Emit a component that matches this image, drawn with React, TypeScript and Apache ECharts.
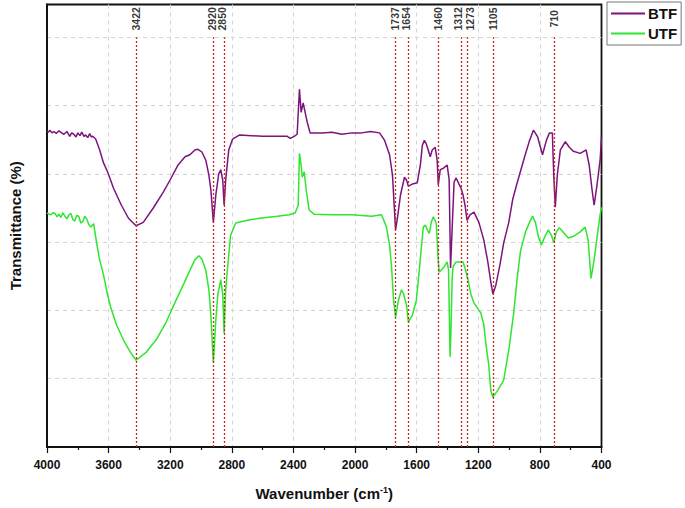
import React, { useEffect, useRef } from "react";
import * as echarts from "echarts";

const btfWavenumber = [4000, 3990, 3981, 3968, 3955, 3940, 3923, 3905, 3890, 3871, 3852, 3840, 3826, 3812, 3800, 3786, 3774, 3760, 3749, 3735, 3723, 3712, 3703, 3684, 3658, 3633, 3607, 3568, 3517, 3471, 3422, 3375, 3310, 3246, 3201, 3149, 3104, 3072, 3040, 3020, 2994, 2969, 2949, 2936, 2920, 2904, 2885, 2872, 2859, 2850, 2840, 2820, 2795, 2749, 2601, 2440, 2421, 2395, 2376, 2361, 2350, 2337, 2324, 2311, 2292, 2214, 2150, 2086, 2020, 1957, 1900, 1841, 1808, 1776, 1757, 1737, 1725, 1705, 1679, 1666, 1654, 1628, 1596, 1576, 1563, 1550, 1538, 1525, 1512, 1499, 1480, 1467, 1460, 1447, 1428, 1402, 1389, 1380, 1370, 1357, 1344, 1325, 1312, 1299, 1286, 1273, 1254, 1228, 1196, 1164, 1138, 1119, 1105, 1086, 1060, 1035, 1002, 977, 951, 899, 867, 842, 816, 783, 758, 738, 719, 710, 700, 687, 667, 635, 609, 583, 538, 500, 480, 461, 448, 429, 409, 400];
const btfValues = [4.63, 4.61, 4.64, 4.60, 4.62, 4.59, 4.63, 4.60, 4.58, 4.62, 4.55, 4.60, 4.58, 4.54, 4.60, 4.56, 4.61, 4.55, 4.57, 4.53, 4.59, 4.54, 4.55, 4.51, 4.35, 4.16, 4.03, 3.79, 3.54, 3.35, 3.24, 3.29, 3.50, 3.73, 3.91, 4.13, 4.25, 4.28, 4.35, 4.36, 4.32, 4.20, 3.98, 3.76, 3.29, 3.69, 4.00, 4.06, 3.91, 3.54, 3.91, 4.35, 4.51, 4.57, 4.55, 4.55, 4.52, 4.55, 4.58, 5.24, 4.90, 5.04, 4.90, 4.76, 4.60, 4.60, 4.61, 4.58, 4.60, 4.60, 4.62, 4.60, 4.49, 4.28, 3.98, 3.18, 3.35, 3.69, 3.95, 3.91, 3.82, 3.85, 3.87, 4.13, 4.42, 4.49, 4.44, 4.35, 4.25, 4.35, 4.39, 4.20, 3.84, 4.06, 4.08, 4.13, 3.91, 2.62, 3.18, 3.88, 3.94, 3.85, 3.79, 3.69, 3.54, 3.32, 3.40, 3.44, 3.29, 3.03, 2.71, 2.42, 2.24, 2.37, 2.66, 2.99, 3.29, 3.62, 3.84, 4.25, 4.49, 4.64, 4.55, 4.28, 4.49, 4.60, 4.60, 3.98, 3.51, 3.98, 4.35, 4.47, 4.39, 4.33, 4.30, 4.35, 4.13, 3.76, 3.54, 3.84, 4.20, 4.54];

const utfWavenumber = [4000, 3987, 3974, 3961, 3948, 3935, 3923, 3910, 3897, 3884, 3871, 3858, 3845, 3832, 3820, 3807, 3794, 3781, 3768, 3755, 3742, 3729, 3716, 3697, 3678, 3658, 3633, 3607, 3587, 3549, 3504, 3459, 3422, 3355, 3291, 3226, 3162, 3110, 3072, 3040, 3014, 2994, 2969, 2949, 2936, 2920, 2904, 2891, 2872, 2859, 2850, 2840, 2827, 2808, 2775, 2698, 2621, 2504, 2427, 2388, 2369, 2361, 2350, 2343, 2330, 2317, 2298, 2266, 2150, 2021, 1892, 1828, 1796, 1776, 1763, 1750, 1737, 1718, 1699, 1686, 1666, 1654, 1628, 1602, 1583, 1557, 1544, 1531, 1518, 1505, 1492, 1473, 1460, 1454, 1428, 1402, 1393, 1383, 1377, 1370, 1364, 1344, 1299, 1286, 1267, 1247, 1228, 1183, 1164, 1151, 1132, 1119, 1105, 1074, 1035, 1002, 970, 945, 925, 893, 867, 848, 829, 809, 790, 764, 745, 725, 710, 693, 674, 642, 616, 577, 538, 506, 487, 468, 448, 429, 409, 400];
const utfValues = [3.43, 3.41, 3.40, 3.43, 3.42, 3.37, 3.41, 3.36, 3.43, 3.38, 3.34, 3.40, 3.42, 3.33, 3.31, 3.39, 3.38, 3.28, 3.30, 3.38, 3.34, 3.26, 3.22, 3.27, 2.99, 2.74, 2.52, 2.23, 2.05, 1.79, 1.57, 1.39, 1.27, 1.39, 1.57, 1.83, 2.15, 2.40, 2.59, 2.74, 2.80, 2.75, 2.59, 2.30, 1.93, 1.23, 1.86, 2.23, 2.45, 2.23, 1.67, 2.30, 2.64, 3.10, 3.28, 3.32, 3.35, 3.38, 3.40, 3.43, 3.54, 4.30, 4.13, 3.95, 4.03, 3.76, 3.47, 3.41, 3.40, 3.40, 3.38, 3.40, 3.22, 2.96, 2.64, 2.15, 1.90, 2.15, 2.30, 2.25, 2.08, 1.83, 1.93, 2.15, 2.59, 3.22, 3.25, 3.18, 3.13, 3.29, 3.37, 3.28, 2.74, 2.56, 2.62, 2.71, 2.59, 1.32, 1.71, 2.45, 2.64, 2.71, 2.71, 2.62, 2.45, 2.23, 2.11, 1.96, 1.79, 1.52, 1.20, 0.83, 0.73, 0.83, 0.98, 1.42, 1.96, 2.52, 2.88, 3.15, 3.29, 3.38, 3.29, 3.07, 2.96, 3.10, 3.18, 3.10, 2.99, 3.15, 3.21, 3.13, 3.06, 3.09, 3.15, 3.22, 3.03, 2.47, 2.74, 3.07, 3.40, 3.51];

const peakWavenumbers = [3422, 2920, 2850, 1737, 1654, 1460, 1312, 1273, 1105, 710];
const peakLabelLevel = 6.27;
const peakLineTop = 6;

const xTicks = { min: 400, max: 4000, interval: 400 };
const yRange = { min: 0, max: 6.48, interval: 1 };

// horizontal nudges (px) for crowded peak labels
const labelNudge: Record<number, number> = { 2920: -1, 2850: -2, 1737: -1, 1654: -2, 1312: -3, 1273: 3 };

export default function App() {
  const ref = useRef<HTMLDivElement>(null);
  useEffect(() => {
    if (!ref.current) return;
    const chart = echarts.init(ref.current, null, { renderer: "svg" });
    const zip = (xs: number[], ys: number[]) => xs.map((x, i) => [x, ys[i]]);
    chart.setOption({
      animation: false,
      backgroundColor: "#fff",
      textStyle: { fontFamily: "Liberation Sans, Arial, sans-serif" },
      grid: {
        left: 43,
        right: 83.5,
        top: 4.5,
        bottom: 61,
        show: true,
        borderColor: "#111",
        borderWidth: 1.8,
        backgroundColor: "transparent",
      },
      legend: {
        data: ["BTF", "UTF"],
        orient: "vertical",
        left: 607,
        top: 2,
        padding: [4, 4, 4, 4],
        itemGap: 5,
        itemWidth: 34,
        itemHeight: 2,
        icon: "rect",
        borderColor: "#777",
        borderWidth: 1,
        textStyle: { fontWeight: "bold", fontSize: 15, color: "#111", padding: [0, 0, 0, -2] },
      },
      xAxis: {
        type: "value",
        inverse: true,
        min: xTicks.min,
        max: xTicks.max,
        interval: xTicks.interval,
        name: "Wavenumber (cm{sup|-1})",
        nameLocation: "middle",
        nameGap: 38,
        nameTextStyle: {
          fontWeight: "bold",
          fontSize: 15,
          color: "#111",
          rich: { sup: { fontSize: 9, fontWeight: "bold", verticalAlign: "top", padding: [0, 0, 8, 0] } },
        },
        axisLine: { lineStyle: { color: "#111", width: 1.8 } },
        axisTick: { show: true, inside: false, length: 6, lineStyle: { color: "#111", width: 1.2 } },
        minorTick: { show: true, splitNumber: 2, length: 3, lineStyle: { color: "#111", width: 1.2 } },
        axisLabel: {
          fontWeight: "bold",
          fontSize: 12,
          color: "#111",
          margin: 12,
          formatter: (v: number) => String(v),
        },
        splitLine: {
          show: true,
          showMinLine: false,
          showMaxLine: false,
          lineStyle: { type: [4, 4], color: "#d4d4d4", width: 1 },
        },
      },
      yAxis: {
        type: "value",
        min: yRange.min,
        max: yRange.max,
        interval: yRange.interval,
        name: "Transmittance (%)",
        nameLocation: "middle",
        nameGap: 24,
        nameTextStyle: { fontWeight: "bold", fontSize: 15, color: "#111" },
        axisLine: { show: true, lineStyle: { color: "#111", width: 1.8 } },
        axisTick: { show: false },
        axisLabel: { show: false },
        splitLine: {
          show: true,
          showMinLine: false,
          showMaxLine: false,
          lineStyle: { type: [4, 4], color: "#d4d4d4", width: 1 },
        },
      },
      series: [
        {
          name: "peaks",
          type: "scatter",
          data: peakWavenumbers.map((w) => ({
            value: [w, peakLabelLevel],
            label: { offset: [0, labelNudge[w] || 0] },
          })),
          symbolSize: 1,
          itemStyle: { color: "rgba(0,0,0,0)" },
          silent: true,
          label: {
            show: true,
            position: "inside",
            rotate: 90,
            formatter: (p: any) => String(p.value[0]),
            fontSize: 10.5,
            fontWeight: "bold",
            color: "#000",
          },
          markLine: {
            silent: true,
            symbol: "none",
            label: { show: false },
            lineStyle: { type: [2, 2], color: "#c42a22", width: 1.3 },
            data: peakWavenumbers.map((w) => [
              { coord: [w, 0] },
              { coord: [w, peakLineTop] },
            ]),
          },
          z: 1,
        },
        {
          name: "UTF",
          type: "line",
          data: zip(utfWavenumber, utfValues),
          showSymbol: false,
          symbol: "none",
          color: "#2ee62e",
          lineStyle: { color: "#2ee62e", width: 1.5 },
          z: 3,
        },
        {
          name: "BTF",
          type: "line",
          data: zip(btfWavenumber, btfValues),
          showSymbol: false,
          symbol: "none",
          color: "#7d147d",
          lineStyle: { color: "#7d147d", width: 1.5 },
          z: 4,
        },
      ],
    });
    return () => chart.dispose();
  }, []);
  return <div ref={ref} style={{ width: 685, height: 508, position: "absolute", left: 0, top: 0 }} />;
}
